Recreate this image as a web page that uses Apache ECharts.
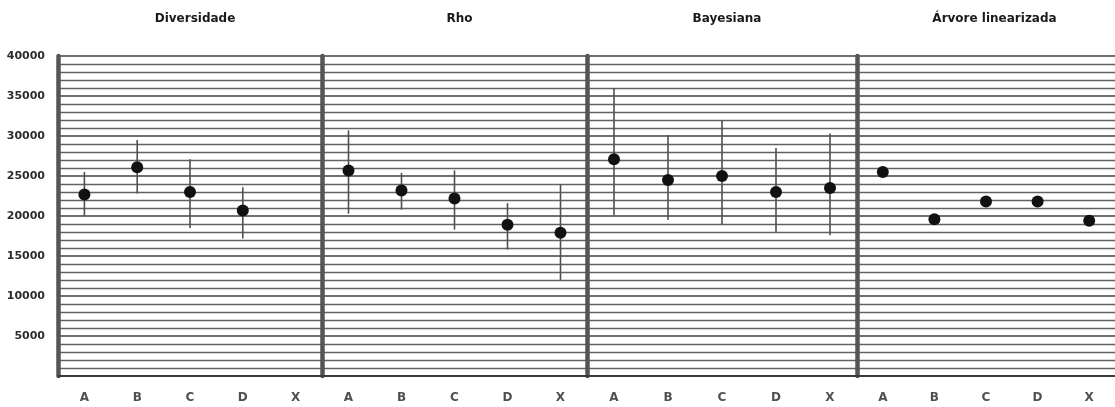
<!DOCTYPE html>
<html>
<head>
<meta charset="utf-8">
<script src="https://cdn.jsdelivr.net/npm/echarts@6/dist/echarts.min.js"></script>
<style>
  html, body { margin: 0; padding: 0; background: #ffffff; }
  #chart { width: 1115px; height: 407px; }
</style>
</head>
<body>
<div id="chart"></div>
<script>
// Estimated divergence times (mean with interval) per method and lineage
const categories = ['A', 'B', 'C', 'D', 'X'];
const panelTitles = ['Diversidade', 'Rho', 'Bayesiana', 'Árvore linearizada'];
const yTicks = [0, 5000, 10000, 15000, 20000, 25000, 30000, 35000, 40000];

const diversidadeMean = [22700, 26100, 23000, 20700, null];
const diversidadeLow  = [20000, 22800, 18500, 17200, null];
const diversidadeHigh = [25500, 29500, 27100, 23600, null];

const rhoMean = [25700, 23200, 22200, 18900, 17900];
const rhoLow  = [20300, 20800, 18300, 15800, 12000];
const rhoHigh = [30700, 25400, 25700, 21600, 24000];

const bayesMean = [27100, 24500, 25000, 23000, 23500];
const bayesLow  = [20100, 19500, 18900, 18000, 17600];
const bayesHigh = [36000, 30100, 32000, 28500, 30300];

const arvoreMean = [25500, 19600, 21800, 21800, 19400];

const panels = [
  { mean: diversidadeMean, low: diversidadeLow, high: diversidadeHigh },
  { mean: rhoMean, low: rhoLow, high: rhoHigh },
  { mean: bayesMean, low: bayesLow, high: bayesHigh },
  { mean: arvoreMean, low: null, high: null }
];

// panel frames in pixels
const panelLeft = [58, 322, 587, 857];
const panelWidth = [264, 265, 270, 265];
const plotTop = 56;
const plotHeight = 320;

const chart = echarts.init(document.getElementById('chart'), null, { renderer: 'canvas' });

const grids = [], xAxes = [], yAxes = [], series = [], titles = [];

panels.forEach((p, i) => {
  grids.push({ left: panelLeft[i], top: plotTop, width: panelWidth[i], height: plotHeight, containLabel: false });
  titles.push({
    text: panelTitles[i],
    left: panelLeft[i] + panelWidth[i] / 2,
    top: 8,
    textAlign: 'center',
    textStyle: { fontFamily: 'DejaVu Sans', fontWeight: 'bold', fontSize: 12, color: '#1a1a1a' }
  });
  xAxes.push({
    type: 'category',
    gridIndex: i,
    data: categories,
    boundaryGap: true,
    axisLine: { show: true, lineStyle: { color: '#3a3a3a', width: 2 } },
    axisTick: { show: false },
    axisLabel: { margin: 16, fontFamily: 'DejaVu Sans', fontWeight: 'bold', fontSize: 12, color: '#505050' },
    splitLine: { show: false }
  });
  yAxes.push({
    type: 'value',
    gridIndex: i,
    min: 0,
    max: 40000,
    interval: 5000,
    axisLine: { show: true, lineStyle: { color: '#555', width: 4.5 } },
    axisTick: { show: false },
    axisLabel: {
      show: i === 0,
      margin: 13,
      fontFamily: 'DejaVu Sans',
      fontWeight: 'bold',
      fontSize: 11,
      color: '#2a2a2a',
      formatter: v => (yTicks.includes(v) && v !== 0 ? String(v) : '')
    },
    splitLine: { show: true, lineStyle: { color: '#4a3c3c', width: 1.7 } },
    minorTick: { show: false, splitNumber: 5 },
    minorSplitLine: { show: true, lineStyle: { color: '#626262', width: 1.3 } }
  });

  if (p.low) {
    const barData = categories.map((c, k) => (p.mean[k] == null ? null : [k, p.low[k], p.high[k]])).filter(d => d);
    series.push({
      type: 'custom',
      xAxisIndex: i,
      yAxisIndex: i,
      z: 3,
      silent: true,
      renderItem: (params, api) => {
        const top = api.coord([api.value(0), api.value(2)]);
        const bottom = api.coord([api.value(0), api.value(1)]);
        return {
          type: 'line',
          shape: { x1: top[0], y1: top[1], x2: bottom[0], y2: bottom[1] },
          style: { stroke: '#505050', lineWidth: 1.6 }
        };
      },
      encode: { x: 0, y: [1, 2] },
      data: barData
    });
  }
  series.push({
    type: 'scatter',
    xAxisIndex: i,
    yAxisIndex: i,
    z: 4,
    symbol: 'circle',
    symbolSize: 12,
    itemStyle: { color: '#111', opacity: 1 },
    data: p.mean.map((v, k) => (v == null ? null : [k, v])).filter(d => d)
  });
});

chart.setOption({
  animation: false,
  backgroundColor: '#ffffff',
  title: titles,
  grid: grids,
  xAxis: xAxes,
  yAxis: yAxes,
  series: series
});
</script>
</body>
</html>
